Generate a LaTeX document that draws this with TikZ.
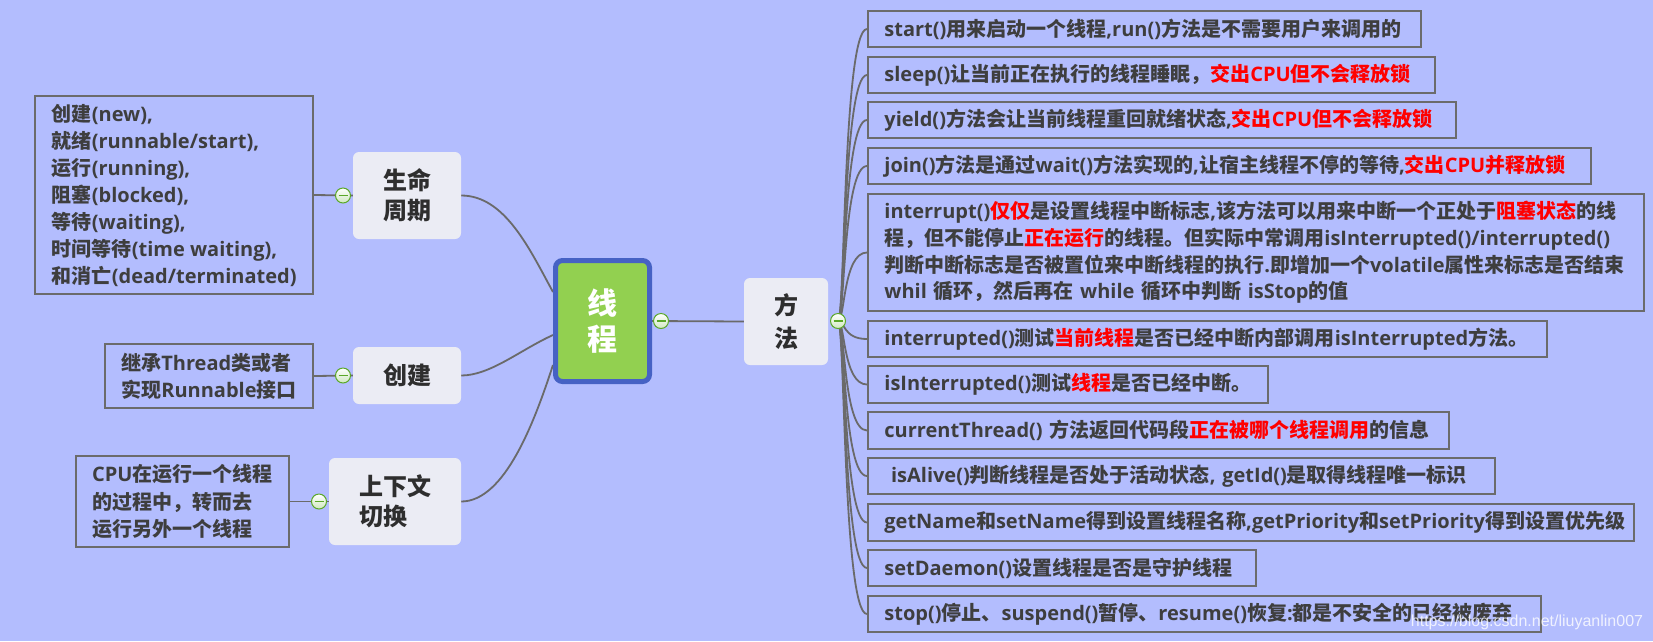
\documentclass[tikz,border=0pt]{standalone}
\usepackage{fontspec}
\usetikzlibrary{calc}
\setmainfont{Open Sans}
\newfontfamily\cjk{Noto Sans CJK SC}
\newfontfamily\latinf{Open Sans}
\newfontfamily\wmfont{Liberation Sans}
\hyphenpenalty=10000
\exhyphenpenalty=10000
\XeTeXinterchartokenstate=1
\newXeTeXintercharclass\CJKcls
\newcount\cjkcnt
\cjkcnt="3000 \loop\ifnum\cjkcnt<"3040 \XeTeXcharclass\cjkcnt=\CJKcls \advance\cjkcnt by 1 \repeat
\cjkcnt="4E00 \loop\ifnum\cjkcnt<"A000 \XeTeXcharclass\cjkcnt=\CJKcls \advance\cjkcnt by 1 \repeat
\cjkcnt="FF00 \loop\ifnum\cjkcnt<"FFF0 \XeTeXcharclass\cjkcnt=\CJKcls \advance\cjkcnt by 1 \repeat
\XeTeXinterchartoks 0 \CJKcls={\cjk}
\XeTeXinterchartoks 4095 \CJKcls={\cjk}
\XeTeXinterchartoks \CJKcls 0={\latinf}
\XeTeXinterchartoks 4095 0={\latinf}
\definecolor{bgblue}{HTML}{B3BDFE}
\definecolor{boxgray}{HTML}{6B6B6B}
\definecolor{linegray}{HTML}{6A6A6A}
\definecolor{textgray}{HTML}{3E3E3E}
\definecolor{labelgray}{HTML}{2E2E2E}
\definecolor{topicfill}{HTML}{EBECF4}
\definecolor{threadgreen}{HTML}{92D050}
\definecolor{threadblue}{HTML}{4662C4}
\definecolor{hlred}{HTML}{FF0000}
\definecolor{cgreen}{HTML}{5BA829}
\definecolor{cfill}{HTML}{CFE8BF}
\newcommand\hl{\color{hlred}}
\newcommand\nm{\color{textgray}}
\pgfdeclarelayer{bg}
\pgfsetlayers{bg,main}
\begin{document}
\begin{tikzpicture}[x=1pt,y=-1pt,
  every node/.style={inner sep=0pt},
  txt/.style={draw=boxgray, line width=1.8pt, inner xsep=16.5pt, inner ysep=0pt,
    text=textgray, font={\latinf\bfseries\fontsize{20}{27}\selectfont}, align=left},
  rbox/.style={txt, anchor=west, minimum height=36.5pt, text width=#1},
  lbox/.style={txt, anchor=east},
  topic/.style={fill=topicfill, rounded corners=6pt, text=labelgray,
    font={\latinf\bfseries\fontsize{24}{30}\selectfont}, align=center},
  collapse/.style={circle, draw=cgreen, line width=1pt, minimum size=15pt,
    top color=white, bottom color=cfill,
    path picture={\draw[cgreen, line width=1.4pt]
      ([xshift=-4.5pt]path picture bounding box.center) --
      ([xshift=4.5pt]path picture bounding box.center);}},
  conn/.style={draw=linegray, line width=1.8pt}
]
\useasboundingbox (0,0) rectangle (1653,641);

% central topic
\node[draw=threadblue, line width=5pt, fill=threadgreen, rounded corners=7pt,
  minimum width=94pt, minimum height=121pt, text=white,
  font={\latinf\bfseries\fontsize{30}{36}\selectfont}, align=center]
  (thread) at (602.5,321) {线\\程};

% left topics
\node[topic, minimum width=108pt, minimum height=87pt] (life) at (407,195.5) {生命\\周期};
\node[topic, minimum width=108pt, minimum height=57pt] (create) at (407,375.5) {创建};
\node[topic, minimum width=132pt, minimum height=87pt, align=left] (ctx) at (395,501.5) {上下文\\切换};

% left text boxes
\node[lbox, minimum height=198pt] (lifebox) at (314,195) {创建(new),\\就绪(runnable/start),\\运行(running),\\阻塞(blocked),\\等待(waiting),\\时间等待(time~waiting),\\和消亡(dead/terminated)};
\node[lbox, minimum height=64pt] (createbox) at (314,376) {继承Thread类或者\\实现Runnable接口};
\node[lbox, minimum height=91pt, font={\latinf\bfseries\fontsize{20}{27.5}\selectfont}] (ctxbox) at (290,501.5) {CPU在运行一个线程\\的过程中，转而去\\运行另外一个线程};

% method topic
\node[topic, minimum width=84pt, minimum height=87pt,
  font={\latinf\bfseries\fontsize{24}{33}\selectfont}] (meth) at (786,321.5) {方\\法};

% right text boxes
\node[rbox=520pt] (b1) at (867,29) {start()用来启动一个线程,run()方法是不需要用户来调用的};
\node[rbox=534pt] (b2) at (867,75) {sleep()让当前正在执行的线程睡眠，\hl 交出CPU但不会释放锁};
\node[rbox=555pt] (b3) at (867,120) {yield()方法会让当前线程重回就绪状态,\hl 交出CPU但不会释放锁};
\node[rbox=690pt] (b4) at (867,166) {join()方法是通过wait()方法实现的,让宿主线程不停的等待,\hl 交出CPU并释放锁};
\node[rbox=743pt, minimum height=117pt, font={\latinf\bfseries\fontsize{20}{26.7}\selectfont}] (b5) at (867,252.5)
  {interrupt()\hl 仅仅\nm 是设置线程中断标志,该方法可以用来中断一个正处于\hl 阻塞状态\nm 的线\\
   程，但不能停止\hl 正在运行\nm 的线程。但实际中常调用isInterrupted()/interrupted()\\
   判断中断标志是否被置位来中断线程的执行.即增加一个volatile属性来标志是否结束\\
   whil~循环，然后再在~while~循环中判断~isStop的值};
\node[rbox=646pt] (b6) at (867,339) {interrupted()测试\hl 当前线程\nm 是否已经中断内部调用isInterrupted方法。};
\node[rbox=367pt] (b7) at (867,384.5) {isInterrupted()测试\hl 线程\nm 是否已经中断。};
\node[rbox=548pt] (b8) at (867,430.5) {currentThread()~方法返回代码段\hl 正在被哪个线程调用\nm 的信息};
\node[rbox=594pt] (b9) at (867,476) {\ isAlive()判断线程是否处于活动状态,~getId()是取得线程唯一标识};
\node[rbox=733pt] (b10) at (867,522.5) {getName和setName得到设置线程名称,getPriority和setPriority得到设置优先级};
\node[rbox=355pt] (b11) at (867,568) {setDaemon()设置线程是否是守护线程};
\node[rbox=640pt] (b12) at (867,614) {stop()停止、suspend()暂停、resume()恢复:都是不安全的已经被废弃};

% collapse buttons
\node[collapse] (lc) at (343,195.5) {};
\node[collapse] (cc) at (343,375.5) {};
\node[collapse] (xc) at (319,501.5) {};
\node[collapse] (tc) at (661,321) {};
\node[collapse] (mc) at (838,321) {};

% watermark
\node[text=white, opacity=0.8, font={\XeTeXinterchartokenstate=0 \wmfont\fontsize{16}{18}\selectfont}]
  (wm) at (1527,622) {https://blog.csdn.net/liuyanlin007};

\begin{pgfonlayer}{bg}
\fill[bgblue] (0,0) rectangle (1653,641);
\draw[conn] (lifebox.east) -- (life.west);
\draw[conn] (createbox.east) -- (create.west);
\draw[conn] (ctxbox.east) -- (ctx.west);
\draw[conn] (life.east) .. controls +(44,0) and +(-23,-42) .. ($(thread.west)+(0,-29)$);
\draw[conn] (create.east) .. controls +(29,0) and +(-33,15) .. ($(thread.west)+(0,14)$);
\draw[conn] (ctx.east) .. controls +(44,0) and +(-18,55) .. ($(thread.west)+(0,44)$);
\draw[conn] (thread.east) -- (meth.west);
\foreach \b in {b1,b2,b3,b4,b5,b6,b7,b8,b9,b10,b11,b12}
  \draw[conn] (mc.center) .. controls +(7,0) and +(-24,0) .. (\b.west);
\end{pgfonlayer}
\end{tikzpicture}
\end{document}
